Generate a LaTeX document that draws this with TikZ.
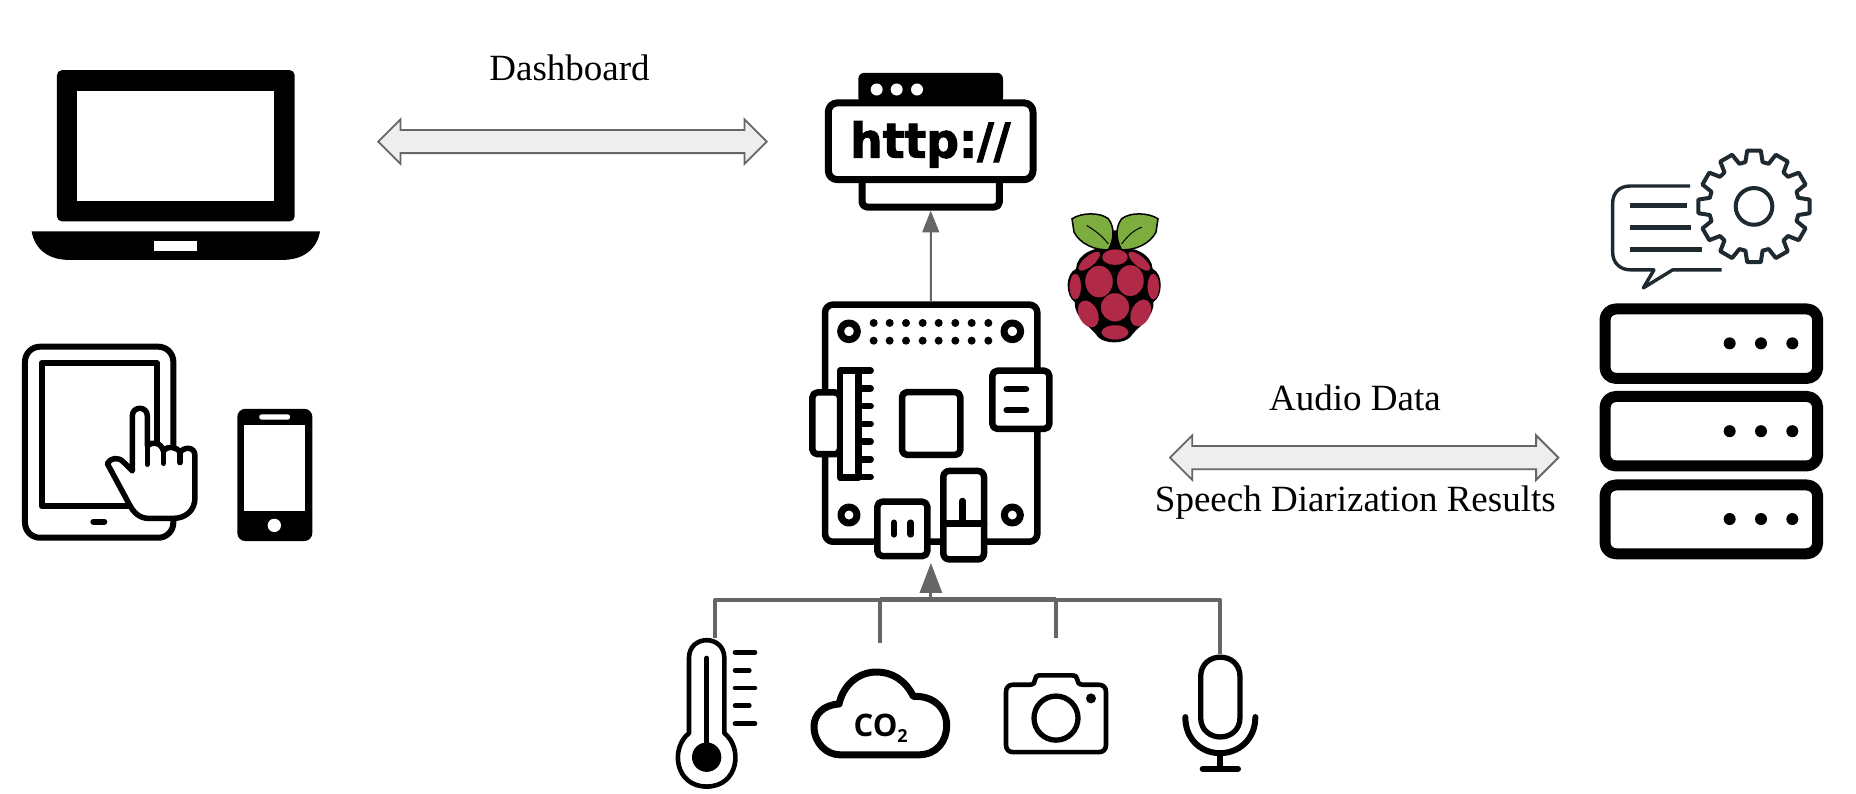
\documentclass[tikz,border=0pt]{standalone}
\usepackage{fontspec}
\setmainfont{Liberation Serif}
\newfontfamily\httpfont{DejaVu Sans}[BoldFeatures={FakeBold=2.2}]
\newfontfamily\cofont{Open Sans}
\usetikzlibrary{arrows.meta,shapes.arrows}
\definecolor{arrowgray}{HTML}{666666}
\definecolor{arrowfill}{HTML}{EEEEEE}
\definecolor{gearink}{HTML}{1F2A30}
\definecolor{berry}{HTML}{B02A48}
\definecolor{leaf}{HTML}{7DAC3F}
\tikzset{
  zoomed/.style 2 args={shift={(#1,#2)},x=0.33333pt,y=-0.334pt},
  anchorbox/.style={inner sep=0pt,outer sep=0pt,minimum width=#1},
  label text/.style={anchor=base,inner sep=0pt,font=\fontsize{37}{40}\selectfont,text=black},
  block arrow/.style={double arrow,inner xsep=0pt,inner ysep=10.65pt,outer sep=0pt,draw=arrowgray,fill=arrowfill,line width=1.8pt,
     double arrow head extend=10.7pt,double arrow tip angle=90,minimum height=#1},
  thin arrow/.style={draw=arrowgray,line width=2pt,-{Triangle[length=21.7pt,width=16.7pt,fill=arrowgray]}},
  up arrow/.style={draw=arrowgray,line width=3pt,-{Triangle[length=30pt,width=22pt,fill=arrowgray]}},
  busline/.style={draw=arrowgray,line width=4pt,line join=round},
  busthick/.style={draw=arrowgray,line width=5pt},
  ink/.style={draw=black,line width=#1,line cap=round,line join=round},
}
\begin{document}
\begin{tikzpicture}[x=1pt,y=-1.002pt]
\useasboundingbox (0pt,0pt) rectangle (1856pt,-794pt);
\fill[white] (0pt,0pt) rectangle (1856pt,-794pt);

% ---- laptop
\begin{scope}[zoomed={0}{40}]
  \fill[black,rounded corners=5pt] (171,90) rectangle (884,543);
  \fill[white] (232,153) rectangle (822,481);
  \fill[black] (95,573) -- (960,573) .. controls (950,630) and (905,658) .. (850,658) -- (205,658) .. controls (150,658) and (105,630) .. (95,573) -- cycle;
  \fill[white] (463,601) rectangle (591,631);
\end{scope}

% ---- tablet, hand, phone
\begin{scope}[zoomed={0}{320}]
  \draw[ink=6pt,rounded corners=15pt] (75,78) rectangle (520,650);
  \draw[ink=6pt] (125,127) rectangle (470,556);
  \draw[ink=6pt] (280,602) -- (313,602);
  \draw[ink=5.5pt,fill=white] (322,428) .. controls (330,412) and (355,405) .. (372,425) -- (397,450) -- (397,285) .. controls (397,255) and (442,255) .. (442,285) -- (442,375) .. controls (455,360) and (485,365) .. (490,390) .. controls (500,375) and (530,375) .. (540,395) .. controls (550,378) and (585,375) .. (585,405) -- (585,530) .. controls (585,570) and (555,592) .. (520,592) -- (445,592) .. controls (420,592) and (400,575) .. (388,550) -- cycle;
  \draw[ink=5.5pt] (442,375) -- (442,430) (490,390) -- (490,427) (540,395) -- (540,425);
  \fill[black,rounded corners=8pt] (712,264) rectangle (937,660);
  \fill[white] (733,312) rectangle (916,569);
  \fill[white,rounded corners=2pt] (778,281) rectangle (870,296);
  \fill[white] (823,613) circle[radius=20];
\end{scope}

% ---- http window
\node[anchorbox=211pt,minimum height=137.6pt] (http) at (930.7,141.5) {};
\begin{scope}[zoomed={780}{50}]
  \draw[ink=7pt,rounded corners=5pt] (246,390) -- (246,470) -- (658,470) -- (658,390);
  \fill[black,rounded corners=6pt] (235,160) -- (235,68) -- (669,68) -- (669,160) -- cycle;
  \foreach \px in {290,350,411} \fill[white] (\px,118) circle[radius=18];
  \draw[ink=7pt,fill=white,rounded corners=9pt] (145,158) rectangle (759,388);
  \node[anchor=base,inner sep=0pt,font=\httpfont\bfseries\fontsize{48}{48}\selectfont] (httptext) at (451,322) {\scalebox{0.95}[1]{http://}};
\end{scope}

% ---- raspberry logo
\begin{scope}[zoomed={780}{50}]
  \fill[black] (985,540) -- (1025,540) -- (1045,600) -- (965,600) -- cycle;
  \fill[black] (1003,592) .. controls (1060,585) and (1115,610) .. (1118,655) .. controls (1150,670) and (1150,735) .. (1120,755) .. controls (1125,800) and (1070,830) .. (1050,860) .. controls (1030,880) and (975,880) .. (955,860) .. controls (935,830) and (880,800) .. (885,755) .. controls (855,735) and (855,670) .. (888,655) .. controls (890,610) and (945,585) .. (1003,592) -- cycle;
  \draw[draw=black,line width=1.5pt,fill=leaf] (876,505) .. controls (905,486) and (960,485) .. (985,505) .. controls (1005,530) and (1002,570) .. (985,598) .. controls (945,600) and (900,580) .. (882,545) -- cycle;
  \draw[draw=black,line width=1.5pt,fill=leaf] (1134,505) .. controls (1105,486) and (1050,485) .. (1025,505) .. controls (1005,530) and (1008,570) .. (1025,598) .. controls (1065,600) and (1110,580) .. (1128,545) -- cycle;
  \draw[black,line width=1pt] (920,525) .. controls (945,540) and (965,555) .. (985,580);
  \draw[black,line width=1pt] (1085,530) .. controls (1060,540) and (1045,555) .. (1025,580);
  \foreach \lw/\fl in {0.1pt/berry}{
    \begin{scope}[draw=\fl,fill=\fl,line width=\lw]
      \filldraw (1005,620) ellipse[x radius=38,y radius=23];
      \filldraw[rotate around={40:(928,632)}] (928,632) ellipse[x radius=40,y radius=15];
      \filldraw[rotate around={-40:(1078,632)}] (1078,632) ellipse[x radius=40,y radius=15];
      \filldraw (957,693) ellipse[x radius=41,y radius=47];
      \filldraw (1051,690) ellipse[x radius=40,y radius=46];
      \filldraw (886,708) ellipse[x radius=17,y radius=38];
      \filldraw (1120,708) ellipse[x radius=17,y radius=38];
      \filldraw (1005,770) circle[radius=42];
      \filldraw[rotate around={25:(925,790)}] (925,790) ellipse[x radius=28,y radius=42];
      \filldraw[rotate around={-25:(1082,787)}] (1082,787) ellipse[x radius=28,y radius=42];
      \filldraw (1005,845) ellipse[x radius=40,y radius=21];
    \end{scope}
  }
\end{scope}

% ---- single-board computer
\node[anchorbox=243.7pt,minimum height=261.3pt] (board) at (930.9,431.4) {};
\begin{scope}[zoomed={780}{290}]
  \draw[ink=6.5pt,fill=white,rounded corners=8pt] (135,42) rectangle (772,752);
  \foreach \hx/\hy/\hr in {207/122/25,697/122/25,207/672/24,697/672/24}
    \draw[ink=7pt] (\hx,\hy) circle[radius=\hr];
  \foreach \dx in {281,329,378,428,476,526,575,625}
    \foreach \dy in {97,150} \fill[black] (\dx,\dy) circle[radius=12];
  \draw[ink=6.5pt,fill=white,rounded corners=5pt] (97,305) rectangle (180,490);
  \draw[ink=6.5pt,fill=white] (180,240) rectangle (235,560);
  \foreach \ty in {240,293,346,399,452,505,558} \draw[ink=6.5pt] (235,\ty) -- (272,\ty);
  \draw[ink=6.5pt,rounded corners=5pt] (366,304) rectangle (541,492);
  \draw[ink=6.5pt,fill=white,rounded corners=5pt] (637,240) rectangle (808,414);
  \draw[ink=6.5pt] (680,295) -- (738,295) (680,358) -- (738,358);
  \draw[ink=6.5pt,fill=white,rounded corners=5pt] (292,632) rectangle (442,795);
  \draw[ink=6.5pt] (342,695) -- (342,730) (392,695) -- (392,730);
  \draw[ink=6.5pt,fill=white,rounded corners=6pt] (490,540) rectangle (612,805);
  \draw[ink=6.5pt] (490,697) -- (612,697) (548,630) -- (548,697);
\end{scope}

% ---- server rack and gear bubble
\begin{scope}[zoomed={1580}{130}]
  \foreach \ta/\tb/\ty in {535/743/638,797/1005/901,1062/1268/1164}{
    \draw[ink=11pt,rounded corners=11pt] (75,\ta) rectangle (713,\tb);
    \foreach \px in {449,543,637} \fill[black] (\px,\ty) circle[radius=18];
  }
  \begin{scope}[draw=gearink,line width=3.4pt]
    \draw[line join=round] (330,167) -- (150,167) .. controls (118,167) and (98,188) .. (98,218) -- (98,365) .. controls (98,397) and (120,418) .. (152,418) -- (222,418) -- (190,472) -- (278,418) -- (425,418);
    \draw[line width=4.6pt] (150,225) -- (322,225) (150,291) -- (332,291) (150,357) -- (366,357);
    \draw[line width=4pt] (522,228) circle[radius=55];
    \begin{scope}[shift={(522,228)}]
      \draw[line width=4pt,line join=round] (79:135)
        \foreach \a in {90,120,...,420}{ -- (\a-11:135) -- (\a-7:168) -- (\a+7:168) -- (\a+11:135) } -- cycle;
    \end{scope}
  \end{scope}
\end{scope}

% ---- sensors
\begin{scope}[zoomed={660}{560}]
  % thermometer
  \draw[ink=4.6pt] (87,515) -- (87,290) .. controls (87,219) and (193,219) .. (193,290) -- (193,515) .. controls (250,560) and (235,675) .. (140,675) .. controls (45,675) and (30,560) .. (87,515) -- cycle;
  \draw[ink=4.6pt] (140,290) -- (140,560);
  \fill[black] (140,587) circle[radius=44];
  \foreach \ty/\tx in {273/285,327/268,380/285,433/268,487/285} \draw[ink=4.6pt] (225,\ty) -- (\tx,\ty);
  % cloud
  \draw[ink=7pt] (540,580) -- (775,580) .. controls (830,580) and (860,540) .. (860,492) .. controls (860,440) and (820,402) .. (760,405) .. controls (735,355) and (695,332) .. (650,332) .. controls (595,332) and (550,370) .. (537,428) .. controls (490,430) and (462,460) .. (462,495) .. controls (462,545) and (500,580) .. (540,580) -- cycle;
  \node[anchor=base,inner sep=0pt,font=\cofont\bfseries\fontsize{31}{31}\selectfont] (cotext) at (662,525) {CO\raisebox{-6pt}{\fontsize{18}{18}\selectfont 2}};
\end{scope}
\begin{scope}[zoomed={970}{560}]
  % camera
  \draw[ink=4.6pt] (130,370) -- (180,370) .. controls (192,370) and (195,362) .. (195,355) .. controls (195,347) and (200,342) .. (210,342) -- (305,342) .. controls (317,342) and (322,347) .. (322,355) .. controls (322,362) and (326,370) .. (338,370) -- (385,370) .. controls (400,370) and (408,378) .. (408,392) -- (408,550) .. controls (408,564) and (400,572) .. (385,572) -- (130,572) .. controls (116,572) and (108,564) .. (108,550) -- (108,392) .. controls (108,378) and (116,370) .. (130,370) -- cycle;
  \draw[ink=5.3pt] (258,470) circle[radius=66];
  \fill[black] (363,411) circle[radius=15];
  % microphone
  \draw[ink=5.3pt] (692,346) .. controls (692,268) and (810,268) .. (810,346) -- (810,468) .. controls (810,546) and (692,546) .. (692,468) -- cycle;
  \draw[ink=6pt] (646,467) .. controls (646,535) and (695,575) .. (750,575) .. controls (805,575) and (856,535) .. (856,467);
  \draw[ink=6pt] (750,575) -- (750,622) (698,622) -- (804,622);
\end{scope}

% ---- connectors
\coordinate (thermoTop) at (715.3,636.7);
\coordinate (cloudTop) at (880.3,641.7);
\coordinate (cameraTop) at (1056,636.7);
\coordinate (micTop) at (1220,653);
\coordinate (busHub) at (930.9,598.5);
\draw[thin arrow] (board.north) -- (http.south);
\draw[busline] (thermoTop) |- (busHub) -| (micTop);
\draw[busline] (cloudTop) -- (cloudTop|-busHub);
\draw[busline] (cameraTop) -- (cameraTop|-busHub);
\draw[busthick] (cloudTop|-busHub) -- (cameraTop|-busHub);
\draw[up arrow] (busHub) -- (board.south);

% ---- block arrows and labels
\node[block arrow=388.4pt] (dasharrow) at (572.5,141.3) {};
\node[block arrow=388.3pt] (audioarrow) at (1364.2,456.7) {};
\node[label text] (dashlabel) at (569.5,80) {Dashboard};
\node[label text] (audiolabel) at (1355,410) {Audio Data};
\node[label text] (speechlabel) at (1355.3,510.5) {Speech Diarization Results};
\end{tikzpicture}
\end{document}
